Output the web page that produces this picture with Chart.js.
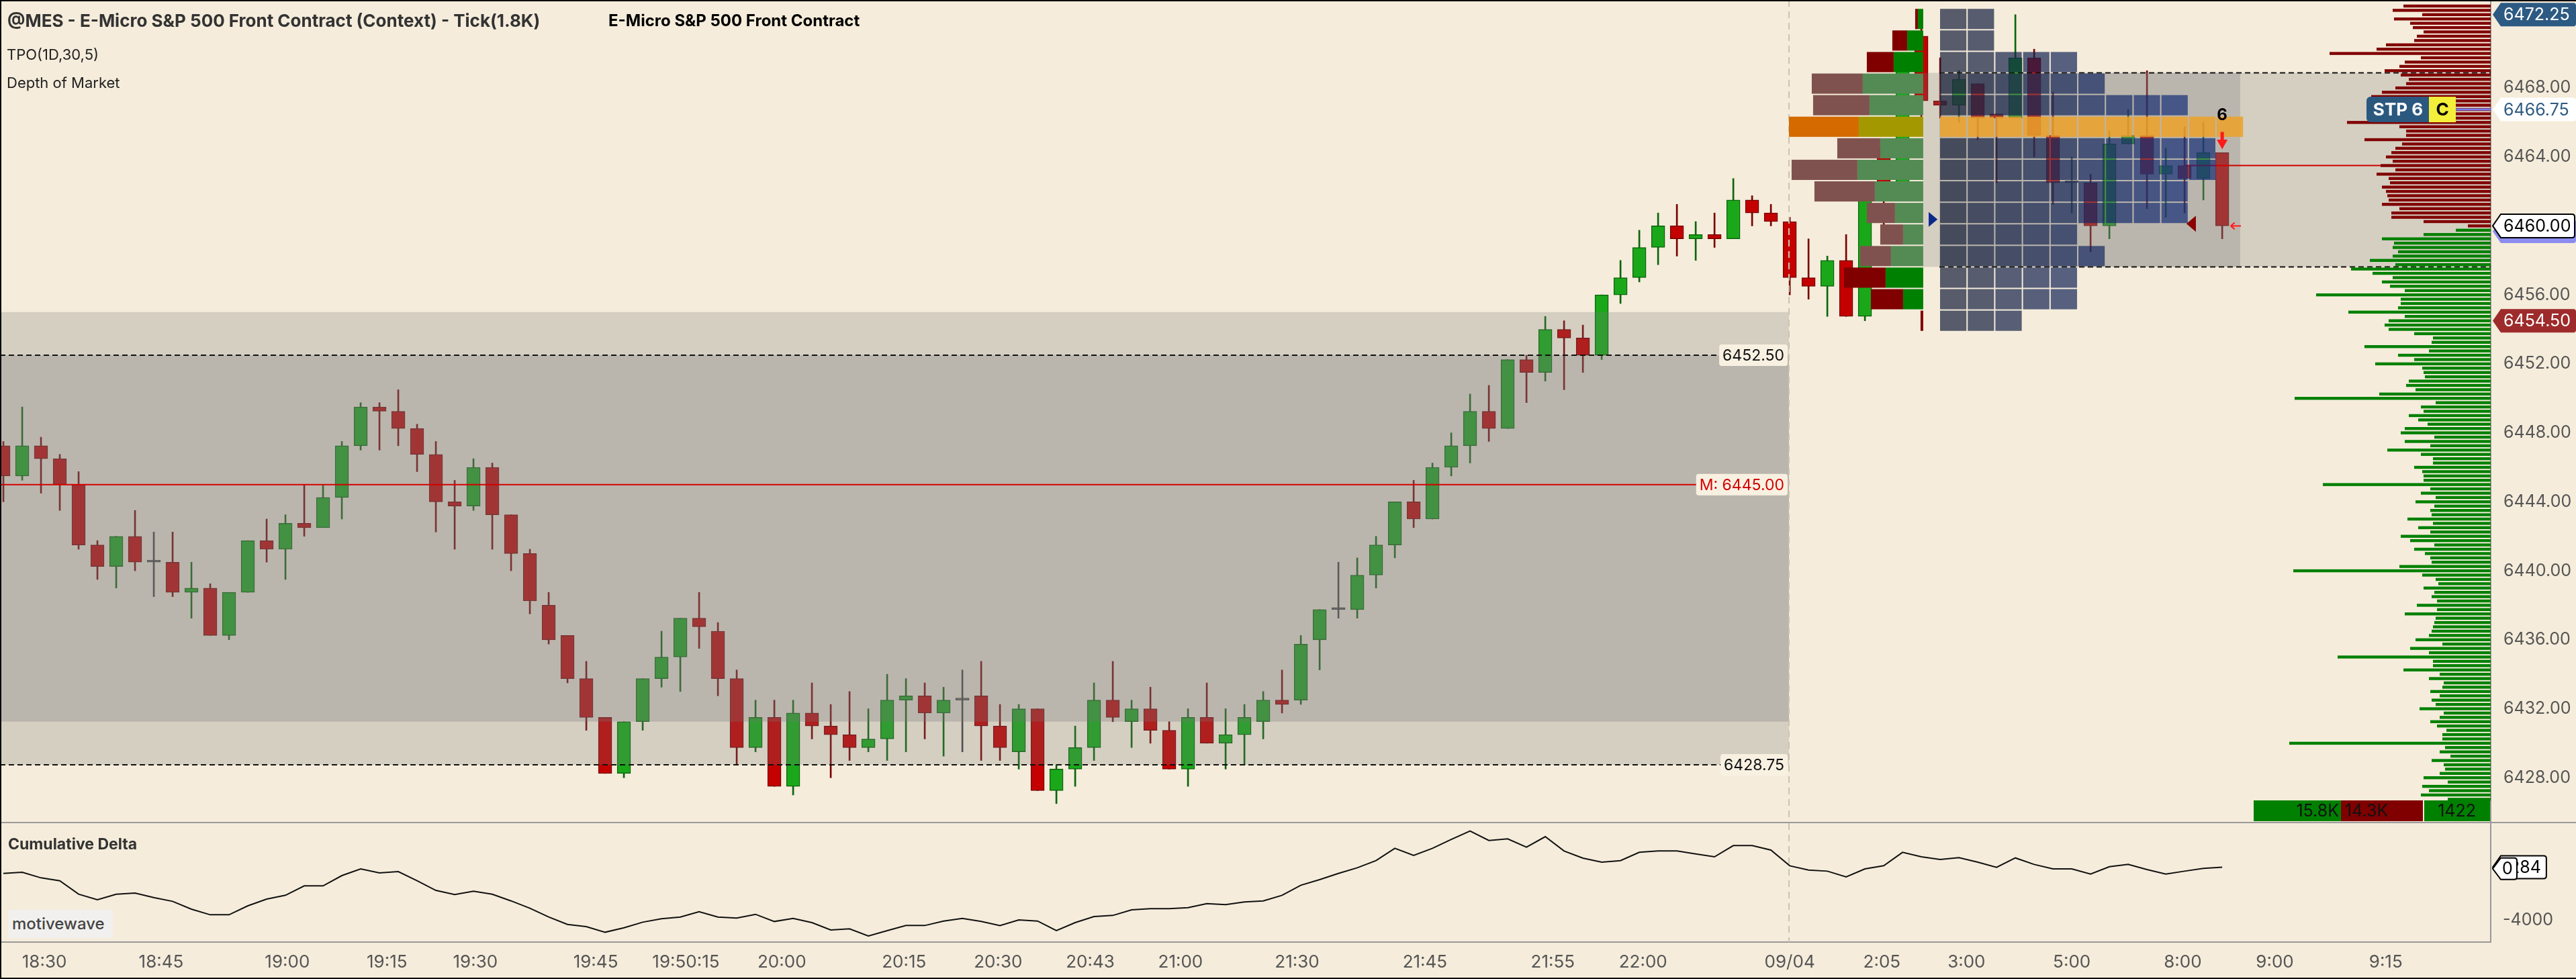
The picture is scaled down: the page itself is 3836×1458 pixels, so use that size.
<!DOCTYPE html>
<html lang="en">
<head>
<meta charset="utf-8">
<title>@MES - E-Micro S&amp;P 500 Front Contract</title>
<script src="https://cdn.jsdelivr.net/npm/chart.js@4.4.1/dist/chart.umd.min.js"></script>
<style>
html,body{margin:0;padding:0;background:#f5ecdb;overflow:hidden;}
#wrap{position:relative;width:3836px;height:1458px;background:#f5ecdb;font-family:Inter,"Noto Sans",sans-serif;}
#main,#lower{position:absolute;left:0;}
#main{top:0;}
#lower{top:1224px;}
.txt{position:absolute;white-space:nowrap;line-height:30px;font-family:Inter,"Noto Sans",sans-serif;}
.edge{position:absolute;background:#000;}
</style>
</head>
<body>
<div id="wrap">
<canvas id="main" width="3836" height="1224"></canvas>
<canvas id="lower" width="3836" height="234"></canvas>
<div class="txt" style="left:11px;top:16px;font-weight:700;font-size:26px;color:#333;">@MES - E-Micro S&amp;P 500 Front Contract (Context) - Tick(1.8K)</div>
<div class="txt" style="left:906px;top:16px;font-weight:700;font-size:24px;color:#000;">E-Micro S&amp;P 500 Front Contract</div>
<div class="txt" style="left:10px;top:66px;font-size:22px;color:#222;">TPO(1D,30,5)</div>
<div class="txt" style="left:10px;top:108px;font-size:22px;color:#222;">Depth of Market</div>
<div class="txt" style="left:12px;top:1242px;font-weight:700;font-size:23px;color:#333;">Cumulative Delta</div>
<div style="position:absolute;left:12px;top:1355px;width:156px;height:42px;background:#f1f0ee;border-radius:4px;"></div>
<div class="txt" style="left:18px;top:1361px;font-weight:500;font-size:24px;color:#444;">motivewave</div>
<div class="edge" style="left:0;top:0;width:3836px;height:2px;"></div>
<div class="edge" style="left:0;top:1456px;width:3836px;height:2px;"></div>
<div class="edge" style="left:0;top:0;width:2px;height:1458px;"></div>
</div>
<script>
// ---------------- DATA ----------------
const opens = [6447.25,6445.5,6447.25,6446.5,6445.0,6441.5,6440.25,6442.0,6440.5,6440.5,
 6438.75,6439.0,6436.25,6438.75,6441.75,6441.25,6442.75,6442.5,6444.25,6447.25,
 6449.5,6449.25,6448.25,6446.75,6444.0,6443.75,6446.0,6443.25,6441.0,6438.0,
 6436.25,6433.75,6431.5,6428.25,6431.25,6433.75,6435.0,6437.25,6436.5,6433.75,
 6429.75,6431.5,6427.5,6431.75,6431.0,6430.5,6429.75,6430.25,6432.5,6432.75,
 6431.75,6432.5,6432.75,6431.0,6429.5,6432.0,6427.25,6428.5,6429.75,6432.5,
 6431.25,6432.0,6430.75,6428.5,6431.5,6430.0,6430.5,6431.25,6432.5,6432.5,
 6436.0,6437.75,6437.75,6439.75,6441.5,6444.0,6443.0,6446.0,6447.25,6449.25,
 6448.25,6452.25,6451.5,6454.0,6453.5,6452.5,6456.0,6457.0,6458.75,6460.0,
 6459.25,6459.5,6459.25,6461.5,6460.75,6460.25,6457.0,6456.5,6458.0,6454.75,
 6464.5,6462.0,6471.0,6467.25,6467.0,6468.25,6466.5,6466.25,6469.75,6465.25,
 6462.5,6462.5,6460.0,6464.75,6465.25,6463.0,6463.5,6462.75,6464.25];
const highs = [6447.5,6449.5,6447.75,6446.75,6445.75,6441.75,6442.0,6443.5,6442.25,6442.25,
 6440.5,6439.25,6438.75,6441.75,6443.0,6443.25,6445.0,6445.0,6447.5,6449.75,
 6449.75,6450.5,6448.5,6447.5,6445.25,6446.5,6446.25,6443.25,6441.25,6438.75,
 6436.25,6434.75,6431.5,6431.25,6433.75,6436.5,6437.25,6438.75,6437.0,6434.25,
 6432.5,6432.5,6432.5,6433.5,6432.25,6433.0,6432.0,6434.0,6433.75,6433.5,
 6433.25,6434.25,6434.75,6432.25,6432.25,6432.0,6428.75,6431.0,6433.5,6434.75,
 6432.5,6433.25,6431.25,6432.0,6433.5,6432.0,6432.25,6433.0,6434.25,6436.25,
 6437.75,6440.5,6440.75,6442.0,6444.0,6445.25,6446.25,6448.0,6450.25,6450.75,
 6452.25,6452.5,6454.75,6454.5,6454.25,6456.0,6458.0,6459.75,6460.75,6461.25,
 6460.25,6460.75,6462.75,6461.75,6461.25,6460.5,6459.25,6458.25,6459.5,6461.75,
 6465.0,6470.0,6471.5,6469.75,6469.0,6468.25,6466.5,6472.25,6470.25,6467.75,
 6464.0,6463.0,6465.5,6466.75,6469.0,6464.5,6465.75,6466.0,6464.25];
const lows = [6444.0,6445.25,6444.5,6443.5,6441.25,6439.5,6439.0,6440.0,6438.5,6438.5,
 6437.25,6436.25,6436.0,6438.75,6440.5,6439.5,6442.0,6442.5,6443.0,6447.0,
 6447.0,6447.25,6445.75,6442.25,6441.25,6443.5,6441.25,6440.0,6437.5,6435.75,
 6433.5,6430.75,6428.25,6428.0,6430.75,6433.25,6433.0,6435.5,6432.75,6428.75,
 6429.5,6427.5,6427.0,6430.25,6428.0,6429.0,6429.5,6429.0,6429.5,6430.25,
 6429.25,6429.5,6429.0,6429.0,6428.5,6427.25,6426.5,6427.5,6429.0,6431.25,
 6429.75,6430.0,6428.5,6427.5,6430.0,6428.5,6428.75,6430.25,6431.75,6432.25,
 6434.25,6437.25,6437.25,6439.0,6440.75,6442.5,6443.0,6445.5,6446.25,6447.5,
 6448.25,6449.75,6451.0,6450.5,6451.5,6452.25,6455.5,6456.75,6457.75,6458.25,
 6458.0,6458.75,6459.25,6460.0,6460.0,6456.0,6455.75,6454.75,6454.75,6454.5,
 6459.75,6461.5,6466.25,6466.25,6466.0,6465.0,6462.5,6466.25,6464.0,6461.25,
 6460.75,6458.5,6459.25,6464.75,6461.0,6460.5,6460.75,6461.5,6459.25];
const closes = [6445.5,6447.25,6446.5,6445.0,6441.5,6440.25,6442.0,6440.5,6440.5,6438.75,
 6439.0,6436.25,6438.75,6441.75,6441.25,6442.75,6442.5,6444.25,6447.25,6449.5,
 6449.25,6448.25,6446.75,6444.0,6443.75,6446.0,6443.25,6441.0,6438.25,6436.0,
 6433.75,6431.5,6428.25,6431.25,6433.75,6435.0,6437.25,6436.75,6433.75,6429.75,
 6431.5,6427.5,6431.75,6431.0,6430.5,6429.75,6430.25,6432.5,6432.75,6431.75,
 6432.5,6432.5,6431.0,6429.75,6432.0,6427.25,6428.5,6429.75,6432.5,6431.5,
 6432.0,6430.75,6428.5,6431.5,6430.0,6430.5,6431.5,6432.5,6432.25,6435.75,
 6437.75,6437.75,6439.75,6441.5,6444.0,6443.0,6446.0,6447.25,6449.25,6448.25,
 6452.25,6451.5,6454.0,6453.5,6452.5,6456.0,6457.0,6458.75,6460.0,6459.25,
 6459.5,6459.25,6461.5,6460.75,6460.25,6457.0,6456.5,6458.0,6454.75,6461.5,
 6461.75,6469.5,6467.25,6467.0,6468.5,6466.25,6466.25,6469.75,6465.25,6462.5,
 6462.5,6460.0,6464.75,6465.25,6463.0,6463.5,6462.75,6464.25,6460.0];
const cumDelta = [-216,-126,-580,-817,-1908,-2363,-1908,-1817,-2181,-2490,
 -3127,-3582,-3582,-2854,-2308,-1999,-1235,-1235,-398,147,
 -180,-71,-817,-1599,-1944,-1672,-1908,-2454,-3054,-3764,
 -4364,-4546,-5000,-4637,-4182,-3909,-3764,-3327,-3764,-3854,
 -3545,-4127,-3873,-4218,-4819,-4727,-5310,-4873,-4455,-4455,
 -4091,-3873,-4127,-4455,-4000,-4091,-4873,-4218,-3727,-3636,
 -3181,-3090,-3090,-3000,-2672,-2763,-2545,-2454,-1999,-1180,
 -726,-216,238,820,1821,1239,1821,2548,3221,2457,
 2585,1912,2767,1603,1020,693,820,1494,1603,1603,
 1366,1130,2039,2039,1675,402,56,-35,-508,147,
 402,1494,1130,911,1057,693,275,1039,511,147,
 147,-273,329,511,93,-273,-35,184,284];

const timeTickBars = [2.18,8.39,15.1,20.4,25.1,31.5,36.3,41.4,47.9,52.9,57.8,62.6,68.8,75.6,82.4,87.2,95.0,99.9,104.4,110.0,115.9,120.8,126.7];
const timeTickLabels = ['18:30','18:45','19:00','19:15','19:30','19:45','19:50:15','20:00','20:15','20:30','20:43','21:00','21:30','21:45','21:55','22:00','09/04','2:05','3:00','5:00','8:00','9:00','9:15'];
const priceTicks = [6428,6432,6436,6440,6444,6448,6452,6456,6460,6464,6468];
const deltaTicks = [-4000];

// previous session levels
const prevZoneOuter = [6428.75, 6455.0];
const prevZoneInner = [6431.25, 6452.5];
const prevVAH = 6452.5, prevVAL = 6428.75, prevPOC = 6445.0;

// current session volume profile / TPO (rows of 1.25 pts)
const profPrices = [6472.0,6470.75,6469.5,6468.25,6467.0,6465.75,6464.5,6463.25,6462.0,6460.75,6459.5,6458.25,6457.0,6455.75,6454.5];
const profSell   = [20,110,200,380,420,520,320,490,450,210,170,230,310,240,20];
const profBuy    = [40,120,220,450,400,480,320,490,360,210,150,240,280,150,0];
const tpoCounts  = [2,2,5,6,9,11,10,10,9,9,5,6,5,5,3];
const vaRows = [6468.25, 6458.25];

// depth of market
const askTop = 6472.75, bidTop = 6459.75, tickSize = 0.25;
const askSizes = [65,73,51,72,60,58,50,55,57,78, 85,120,52,64,68,79,67,61,63,71,
 81,89,66,73,65,67,65,107,68,63, 63,94,66,71,74,78,73,82,71,85,
 76,75,81,78,77,76,81,68,74,74, 50,17];
const bidSizes = [26,50,81,72,73,69,73,90,71,104, 88,73,81,75,64,130,67,67,69,106,
 64,76,79,76,57,
 43,44,94,46,69,57,86,51,50,49, 61,63,56,83,146,41,52,50,61,54,
 47,64,67,42,64,45,77,52,43,43, 57,51,50,50,125,45,52,41,56,42,
 45,44,62,43,54,45,67,60,42,57, 49,45,44,68,147,51,41,39,50,42,
 44,40,55,40,64,41,42,43,44,46, 56,36,60,46,114,43,43,65,38,46,
 35,36,45,38,44,41,53,35,38,45, 40,33,36,36,150,34,38,30,44,35,
 34,38,50,32,51,46,52,32];
const askPrices = askSizes.map((_, k) => askTop - tickSize * k);
const bidPrices = bidSizes.map((_, k) => bidTop - tickSize * k);

const stopPrice = 6466.75, stopQty = 6;
const entryLine = {price: 6463.5, fromBar: 116};
const sessionBuyVol = 15760, sessionSellVol = 14338;

// ---------------- LAYOUT CONSTANTS ----------------
const BAR_MIN = -0.18, BAR_MAX = 132.28;
const PRICE_MIN = 6425.44, PRICE_MAX = 6473.10;
const SESSION_BREAK_BAR = 94.96;
const SESSION2_START = 95;
const PROFILE_ANCHOR_BAR = 102.1, VOL_PER_BAR = 140, ROW = 1.25;
const TPO_START_BAR = 102.96, TPO_PERIOD_BARS = 1.4714, DEV_END_BAR = 118.96;
const DOM_PER_BAR = 14;
const SHADE1 = 'rgba(120,120,120,0.25)', SHADE2 = 'rgba(120,120,120,0.27)';
const FONT = 'Inter, "Noto Sans", sans-serif';

Chart.defaults.font.family = FONT;
Chart.defaults.color = '#555';

const bars = opens.map((_, i) => i);
const UP = '#1aa81a', UP_B = '#0b650b', DN = '#c40000', DN_B = '#780000', DOJI = '#444444';
const dir = i => closes[i] > opens[i] ? 1 : (closes[i] < opens[i] ? -1 : 0);
const bodyColors = bars.map(i => dir(i) > 0 ? UP : dir(i) < 0 ? DN : DOJI);
const edgeColors = bars.map(i => dir(i) > 0 ? UP_B : dir(i) < 0 ? DN_B : DOJI);

// derived
const profTotals = profPrices.map((p, r) => profSell[r] + profBuy[r]);
const pocPrice = profPrices[profTotals.indexOf(Math.max(...profTotals))];
const s2 = bars.filter(i => i >= SESSION2_START);
const dayHigh = Math.max(...s2.map(i => highs[i]));
const dayLow = Math.min(...s2.map(i => lows[i]));
const lastPrice = closes[closes.length - 1];

// ---------------- HELPERS ----------------
function box(ctx, x0, x1, y0, y1, fill) {
  ctx.fillStyle = fill;
  ctx.fillRect(Math.min(x0, x1), Math.min(y0, y1), Math.abs(x1 - x0), Math.abs(y1 - y0));
}
function hline(ctx, x0, x1, y, color, w, dash) {
  ctx.save(); ctx.strokeStyle = color; ctx.lineWidth = w; ctx.setLineDash(dash || []);
  ctx.beginPath(); ctx.moveTo(x0, y); ctx.lineTo(x1, y); ctx.stroke(); ctx.restore();
}
function vline(ctx, x, y0, y1, color, w, dash) {
  ctx.save(); ctx.strokeStyle = color; ctx.lineWidth = w; ctx.setLineDash(dash || []);
  ctx.beginPath(); ctx.moveTo(x, y0); ctx.lineTo(x, y1); ctx.stroke(); ctx.restore();
}
function tag(ctx, xL, xR, yc, h, fill, stroke, text, color, textX) {
  const n = 12, t = yc - h / 2, b = yc + h / 2, r = 4;
  ctx.save();
  ctx.beginPath();
  ctx.moveTo(xL, yc); ctx.lineTo(xL + n, t); ctx.lineTo(xR - r, t); ctx.quadraticCurveTo(xR, t, xR, t + r);
  ctx.lineTo(xR, b - r); ctx.quadraticCurveTo(xR, b, xR - r, b); ctx.lineTo(xL + n, b); ctx.closePath();
  ctx.fillStyle = fill; ctx.fill();
  if (stroke) { ctx.strokeStyle = stroke; ctx.lineWidth = 2; ctx.stroke(); }
  if (text) {
    ctx.fillStyle = color; ctx.font = '25px ' + FONT; ctx.textBaseline = 'middle'; ctx.textAlign = 'left';
    ctx.fillText(text, textX, yc + 1);
  }
  ctx.restore();
}
function levelLabel(ctx, xRight, y, text, color) {
  ctx.save();
  ctx.font = '23px ' + FONT;
  const w = ctx.measureText(text).width;
  const x0 = xRight - w - 12;
  ctx.fillStyle = '#f8f1e2';
  ctx.beginPath(); ctx.roundRect(x0, y - 16, w + 10, 32, 4); ctx.fill();
  ctx.fillStyle = color; ctx.textBaseline = 'middle'; ctx.textAlign = 'left';
  ctx.fillText(text, x0 + 5, y + 1);
  ctx.restore();
  return x0;
}
const fmtK = v => v >= 10000 ? (v / 1000).toFixed(1) + 'K' : String(v);
const noPad = s => { s.paddingTop = 0; s.paddingBottom = 0; s.paddingLeft = 0; s.paddingRight = 0; };

// ---------------- MAIN CHART ----------------
const mainOverlay = {
  id: 'mainOverlay',
  afterDatasetsDraw(chart) {
    const {ctx, chartArea: ca, scales} = chart;
    const xs = scales.x, ys = scales.y;
    const X = v => xs.getPixelForValue(v), Y = p => ys.getPixelForValue(p);
    ctx.save();
    ctx.beginPath(); ctx.rect(ca.left, ca.top, ca.right - ca.left, ca.bottom - ca.top); ctx.clip();

    const xb = X(SESSION_BREAK_BAR);
    box(ctx, ca.left, xb, Y(prevZoneOuter[1]), Y(prevZoneOuter[0]), SHADE1);
    box(ctx, ca.left, xb, Y(prevZoneInner[1]), Y(prevZoneInner[0]), SHADE2);
    const vaTop = vaRows[0] + ROW / 2, vaBot = vaRows[1] - ROW / 2;
    box(ctx, X(PROFILE_ANCHOR_BAR), ca.right, Y(vaTop), Y(vaBot), SHADE1);
    box(ctx, X(TPO_START_BAR), X(DEV_END_BAR), Y(vaTop), Y(vaBot), SHADE2);
    hline(ctx, X(TPO_START_BAR), ca.right, Y(vaTop), '#111', 2, [8, 5]);
    hline(ctx, X(TPO_START_BAR), ca.right, Y(vaBot), '#111', 2, [8, 5]);

    vline(ctx, xb, ca.top, ca.bottom, '#cbc3b3', 2, [10, 7]);

    let lx = levelLabel(ctx, xb, Y(prevVAH), prevVAH.toFixed(2), '#111');
    hline(ctx, ca.left, lx, Y(prevVAH), '#111', 2, [8, 5]);
    lx = levelLabel(ctx, xb, Y(prevVAL), prevVAL.toFixed(2), '#111');
    hline(ctx, ca.left, lx, Y(prevVAL), '#111', 2, [8, 5]);
    lx = levelLabel(ctx, xb, Y(prevPOC), 'M: ' + prevPOC.toFixed(2), '#d40000');
    hline(ctx, ca.left, lx, Y(prevPOC), '#d40000', 2);

    hline(ctx, X(entryLine.fromBar), ca.right, Y(entryLine.price), '#d00000', 2);

    const pxPerBar = X(1) - X(0);
    const anchor = X(PROFILE_ANCHOR_BAR);
    profPrices.forEach((p, r) => {
      const y0 = Y(p + ROW / 2) + 1, y1 = Y(p - ROW / 2) - 1;
      const bw = profBuy[r] / VOL_PER_BAR * pxPerBar, sw = profSell[r] / VOL_PER_BAR * pxPerBar;
      const inVA = p <= vaRows[0] && p >= vaRows[1];
      const c = p === pocPrice ? ['#d46a00', '#a39800'] : inVA ? ['#80524f', '#548a54'] : ['#800000', '#008000'];
      if (bw > 0) box(ctx, anchor - bw, anchor, y0, y1, c[1]);
      if (sw > 0) box(ctx, anchor - bw - sw, anchor - bw, y0, y1, c[0]);
    });

    profPrices.forEach((p, r) => {
      const y0 = Y(p + ROW / 2) + 1, y1 = Y(p - ROW / 2) - 1;
      for (let c = 0; c < tpoCounts[r]; c++) {
        const x0 = X(TPO_START_BAR + c * TPO_PERIOD_BARS) + 1;
        const x1 = X(TPO_START_BAR + (c + 1) * TPO_PERIOD_BARS) - 1;
        let col;
        if (p === pocPrice) col = 'rgba(236,160,40,0.85)';
        else { const t = Math.min(c / 8, 1); col = `rgba(20,${Math.round(30 + 16 * t)},${Math.round(58 + 62 * t)},0.7)`; }
        box(ctx, x0, x1, y0, y1, col);
      }
    });

    ctx.fillStyle = '#0a2a8a';
    ctx.beginPath();
    ctx.moveTo(X(102.86), Y(6460.375)); ctx.lineTo(X(102.39), Y(6460.375) - 11); ctx.lineTo(X(102.39), Y(6460.375) + 11);
    ctx.closePath(); ctx.fill();
    ctx.fillStyle = '#8b0000';
    ctx.beginPath();
    ctx.moveTo(X(116.1), Y(6460.12)); ctx.lineTo(X(116.6), Y(6460.12) - 12); ctx.lineTo(X(116.6), Y(6460.12) + 12);
    ctx.closePath(); ctx.fill();
    const xl = X(bars.length - 1);
    ctx.fillStyle = '#000'; ctx.font = 'bold 24px ' + FONT; ctx.textAlign = 'center'; ctx.textBaseline = 'middle';
    ctx.fillText(String(stopQty), xl, Y(6466.4));
    ctx.fillStyle = '#ff1a1a';
    ctx.fillRect(xl - 2.5, Y(6465.45), 5, Y(6465.0) - Y(6465.45));
    ctx.beginPath(); ctx.moveTo(xl - 8, Y(6465.0)); ctx.lineTo(xl + 8, Y(6465.0)); ctx.lineTo(xl, Y(6464.45)); ctx.closePath(); ctx.fill();
    ctx.strokeStyle = '#ff1a1a'; ctx.lineWidth = 2;
    const ya = Y(lastPrice);
    ctx.beginPath(); ctx.moveTo(X(118.45), ya); ctx.lineTo(X(119.0), ya);
    ctx.moveTo(X(118.45), ya); ctx.lineTo(X(118.45) + 6, ya - 5);
    ctx.moveTo(X(118.45), ya); ctx.lineTo(X(118.45) + 6, ya + 5); ctx.stroke();

    // depth of market, anchored at the right edge of the price scale
    const xr = X(BAR_MAX);
    askSizes.forEach((s, k) => { const y = Y(askPrices[k]); box(ctx, X(BAR_MAX - s / DOM_PER_BAR), xr, y - 2.2, y + 2.2, '#800000'); });
    bidSizes.forEach((s, k) => { const y = Y(bidPrices[k]); box(ctx, X(BAR_MAX - s / DOM_PER_BAR), xr, y - 2.2, y + 2.2, '#008000'); });

    ctx.restore();
  },
  afterDraw(chart) {
    const {ctx, chartArea: ca, scales} = chart;
    const ys = scales.y;
    const Y = p => ys.getPixelForValue(p);
    ctx.save();
    const ys0 = Y(stopPrice);
    hline(ctx, ca.right - 52, ca.right, ys0, '#7a7af2', 3);
    ctx.fillStyle = '#2b587f';
    ctx.beginPath(); ctx.roundRect(ca.right - 185, ys0 - 19, 95, 38, [6, 0, 0, 6]); ctx.fill();
    ctx.fillStyle = '#f4ef3a'; ctx.fillRect(ca.right - 92, ys0 - 19, 40, 38);
    ctx.font = 'bold 26px ' + FONT; ctx.textBaseline = 'middle'; ctx.textAlign = 'center';
    ctx.fillStyle = '#fff'; ctx.fillText('STP ' + stopQty, ca.right - 138, ys0 + 1);
    ctx.fillStyle = '#000'; ctx.fillText('C', ca.right - 72, ys0 + 1);

    const xL = ca.right + 3, xR = chart.width;
    tag(ctx, xL, xR, Y(dayHigh), 35, '#2d5a82', null, dayHigh.toFixed(2), '#fff', xL + 16);
    tag(ctx, xL, xR, Y(stopPrice), 35, '#ffffff', null, stopPrice.toFixed(2), '#2d5a82', xL + 16);
    tag(ctx, xL, xR, Y(lastPrice) + 8, 35, '#8c8cf0', null, '', '#000', 0);
    tag(ctx, xL, xR - 2, Y(lastPrice), 35, '#ffffff', '#000', lastPrice.toFixed(2), '#000', xL + 16);
    tag(ctx, xL, xR, Y(dayLow), 35, '#9e2b2b', null, dayLow.toFixed(2), '#fff', xL + 16);

    const y0 = ca.bottom - 32, y1 = ca.bottom - 1;
    box(ctx, ca.right - 353, ca.right - 223, y0, y1, '#008000');
    box(ctx, ca.right - 223, ca.right - 101, y0, y1, '#800000');
    box(ctx, ca.right - 99, ca.right - 1, y0, y1, '#008000');
    ctx.font = '25px ' + FONT; ctx.fillStyle = '#111'; ctx.textBaseline = 'middle';
    ctx.textAlign = 'right'; ctx.fillText(fmtK(sessionBuyVol), ca.right - 226, (y0 + y1) / 2 + 1);
    ctx.textAlign = 'left'; ctx.fillText(fmtK(sessionSellVol), ca.right - 217, (y0 + y1) / 2 + 1);
    ctx.textAlign = 'right'; ctx.fillText(String(sessionBuyVol - sessionSellVol), ca.right - 22, (y0 + y1) / 2 + 1);
    ctx.restore();
  }
};

new Chart(document.getElementById('main'), {
  type: 'bar',
  data: {
    datasets: [
      { label: 'body', data: bars.map(i => ({x: i, y: [opens[i], closes[i]]})),
        backgroundColor: bodyColors, borderColor: edgeColors, borderWidth: 1.5, borderSkipped: false,
        barThickness: 20, minBarLength: 3, grouped: false, order: 0 },
      { label: 'wick', data: bars.map(i => ({x: i, y: [lows[i], highs[i]]})),
        backgroundColor: edgeColors, borderWidth: 0, barThickness: 2, grouped: false, order: 1 }
    ]
  },
  options: {
    responsive: false, animation: false, devicePixelRatio: 1, events: [],
    layout: {padding: 0},
    plugins: {legend: {display: false}, tooltip: {enabled: false}},
    scales: {
      x: {type: 'linear', display: false, min: BAR_MIN, max: BAR_MAX, offset: false},
      y: {type: 'linear', position: 'right', min: PRICE_MIN, max: PRICE_MAX,
        afterBuildTicks: s => { s.ticks = priceTicks.map(v => ({value: v})); },
        afterFit: s => { s.width = 127; noPad(s); },
        grid: {display: false, drawTicks: false},
        border: {display: true, color: '#999', width: 2},
        ticks: {padding: 19, color: '#555', font: {family: FONT, size: 25}, callback: v => Number(v).toFixed(2)}
      }
    }
  },
  plugins: [mainOverlay]
});

// ---------------- LOWER CHART ----------------
const lowerOverlay = {
  id: 'lowerOverlay',
  beforeDatasetsDraw(chart) {
    const {ctx, chartArea: ca, scales} = chart;
    vline(ctx, scales.x.getPixelForValue(SESSION_BREAK_BAR), ca.top, ca.bottom, '#cbc3b3', 2, [10, 7]);
  },
  afterDraw(chart) {
    const {ctx, chartArea: ca, scales} = chart;
    const Y = v => scales.y.getPixelForValue(v);
    ctx.save();
    ctx.fillStyle = '#9a9a9a'; ctx.fillRect(0, 0, chart.width, 2);
    const last = cumDelta[cumDelta.length - 1];
    ctx.font = '25px ' + FONT;
    const tw = ctx.measureText(String(last)).width;
    const xL = ca.right + 3;
    tag(ctx, xL, xL + 25 + tw + 8, Y(last), 34, '#fff', '#000', String(last), '#000', xL + 25);
    tag(ctx, xL, xL + 36, Y(0) - 3, 32, '#fff', '#000', '0', '#000', xL + 14);
    ctx.restore();
  }
};

new Chart(document.getElementById('lower'), {
  type: 'line',
  data: {
    datasets: [{ label: 'Cumulative Delta', data: bars.map(i => ({x: i, y: cumDelta[i]})),
      borderColor: '#111', borderWidth: 2, pointRadius: 0, tension: 0, fill: false }]
  },
  options: {
    responsive: false, animation: false, devicePixelRatio: 1, events: [],
    layout: {padding: {top: 2, left: 0, right: 0, bottom: 0}},
    plugins: {legend: {display: false}, tooltip: {enabled: false}},
    scales: {
      x: {type: 'linear', min: BAR_MIN, max: BAR_MAX, position: 'bottom', offset: false,
        afterBuildTicks: s => { s.ticks = timeTickBars.map(v => ({value: v})); },
        afterFit: s => { s.height = 55; noPad(s); },
        grid: {display: false, drawTicks: false},
        border: {display: true, color: '#999', width: 2},
        ticks: {autoSkip: false, maxRotation: 0, padding: 15, color: '#555', font: {family: FONT, size: 26},
          callback: (v, i) => timeTickLabels[i]}
      },
      y: {type: 'linear', position: 'right', min: -5800, max: 3860,
        afterBuildTicks: s => { s.ticks = deltaTicks.map(v => ({value: v})); },
        afterFit: s => { s.width = 127; noPad(s); },
        grid: {display: false, drawTicks: false},
        border: {display: true, color: '#999', width: 2},
        ticks: {padding: 18, color: '#555', font: {family: FONT, size: 25}, callback: v => String(v)}
      }
    }
  },
  plugins: [lowerOverlay]
});
</script>
</body>
</html>
